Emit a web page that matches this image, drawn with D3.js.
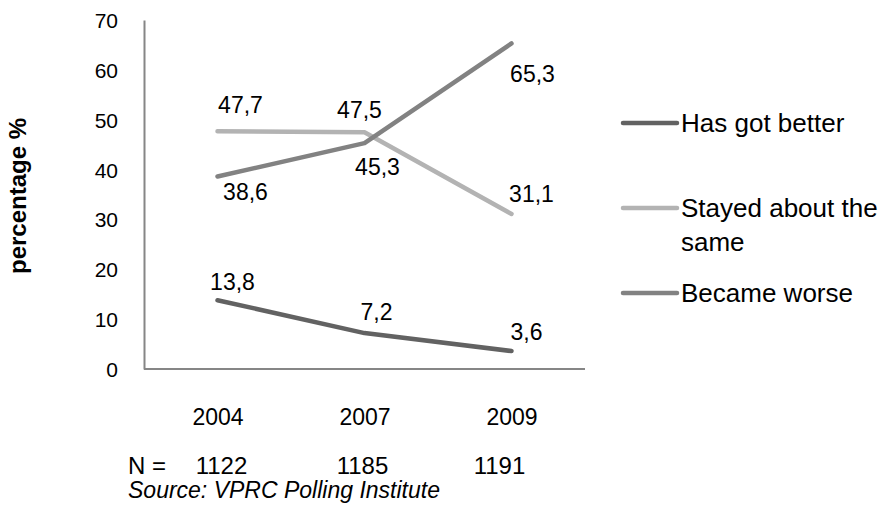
<!DOCTYPE html>
<html>
<head>
<meta charset="utf-8">
<script src="https://cdn.jsdelivr.net/npm/d3@7"></script>
<style>
  html, body { margin: 0; padding: 0; background: #fff; }
  text { font-family: "Liberation Sans", Arial, sans-serif; fill: #000; }
</style>
</head>
<body>
<svg id="chart" width="880" height="506"></svg>
<script>
// ---- data ----
const years = ["2004", "2007", "2009"];
const sampleSizes = ["1122", "1185", "1191"];
const seriesNames = ["Has got better", "Stayed about the same", "Became worse"];
const hasGotBetter = [13.8, 7.2, 3.6];
const stayedSame = [47.7, 47.5, 31.1];
const becameWorse = [38.6, 45.3, 65.3];
const yTicks = [0, 10, 20, 30, 40, 50, 60, 70];
const sourceText = "Source: VPRC Polling Institute";
const yTitle = "percentage %";

// ---- layout / style (not data) ----
const colors = ["#626262", "#b3b3b3", "#828282"];
// label offsets relative to each point: [dx, dy] (text centre x, baseline y)
const labelOffsets = [
  [[15, -10], [12, -13], [15, -11]],
  [[23, -18], [-5, -14], [20, -12]],
  [[28, 23], [13, 32], [21, 39]]
];
const nOffsets = [4, -2, -12];

const seriesValues = [hasGotBetter, stayedSame, becameWorse];
const fmt = v => String(v).replace(".", ",");

const svg = d3.select("#chart");
const x = d3.scalePoint().domain(years).range([144, 585]).padding(0.5);
const y = d3.scaleLinear().domain([0, 70]).range([369, 20]);

// y axis
const yAxis = svg.append("g").attr("transform", "translate(144,0)")
  .call(d3.axisLeft(y).tickValues(yTicks).tickSize(0).tickPadding(26).tickFormat(d3.format("d")));
yAxis.select(".domain").attr("stroke", "#868686").attr("stroke-width", 2);
yAxis.selectAll("text").style("font-size", "21px").style("font-family", "Liberation Sans, Arial, sans-serif").attr("fill", "#000").attr("dy", "0.36em");

// x axis
const xAxis = svg.append("g").attr("transform", "translate(0,369)")
  .call(d3.axisBottom(x).tickSize(0).tickSizeOuter(0).tickPadding(56));
xAxis.select(".domain").attr("stroke", "#868686").attr("stroke-width", 2)
  .attr("d", "M144,0H585");
xAxis.selectAll("text").style("font-size", "23px").style("font-family", "Liberation Sans, Arial, sans-serif").attr("fill", "#000").attr("dy", "0");

// N row
svg.append("text").attr("x", 128).attr("y", 474).style("font-size", "24px").text("N =");
svg.selectAll("text.nval").data(sampleSizes).join("text")
  .attr("class", "nval")
  .attr("x", (d, i) => x(years[i]) + nOffsets[i])
  .attr("y", 474).attr("text-anchor", "middle").style("font-size", "24px")
  .text(d => d);

// source
svg.append("text").attr("x", 128).attr("y", 498).style("font-size", "23px")
  .style("font-style", "italic").text(sourceText);

// y title
svg.append("text")
  .attr("transform", "translate(26,196) rotate(-90)")
  .attr("text-anchor", "middle").style("font-size", "24px").style("font-weight", "bold")
  .text(yTitle);

// lines
const line = d3.line().x((d, i) => x(years[i])).y(d => y(d));
svg.selectAll("path.series").data(seriesValues).join("path")
  .attr("class", "series")
  .attr("d", d => line(d))
  .attr("fill", "none")
  .attr("stroke", (d, i) => colors[i])
  .attr("stroke-width", 4.5)
  .attr("stroke-linecap", "round")
  .attr("stroke-linejoin", "round");

// data labels
seriesValues.forEach((vals, s) => {
  svg.selectAll("text.lbl" + s).data(vals).join("text")
    .attr("class", "lbl" + s)
    .attr("x", (d, i) => x(years[i]) + labelOffsets[s][i][0])
    .attr("y", (d, i) => y(d) + labelOffsets[s][i][1])
    .attr("text-anchor", "middle").style("font-size", "23px")
    .text(d => fmt(d));
});

// legend
const legendY = [123, 208, 293];
const legend = svg.selectAll("g.leg").data(seriesNames).join("g")
  .attr("class", "leg")
  .attr("transform", (d, i) => `translate(623,${legendY[i]})`);
legend.append("line").attr("x1", 0).attr("x2", 54).attr("y1", 0).attr("y2", 0)
  .attr("stroke", (d, i) => colors[i]).attr("stroke-width", 4.5).attr("stroke-linecap", "round");
legend.append("text").attr("x", 58).attr("y", 9).style("font-size", "26px")
  .each(function (d) {
    const t = d3.select(this);
    if (d === "Stayed about the same") {
      t.append("tspan").attr("x", 58).attr("dy", 0).text("Stayed about the");
      t.append("tspan").attr("x", 58).attr("dy", 34).text("same");
    } else {
      t.text(d);
    }
  });
</script>
</body>
</html>
